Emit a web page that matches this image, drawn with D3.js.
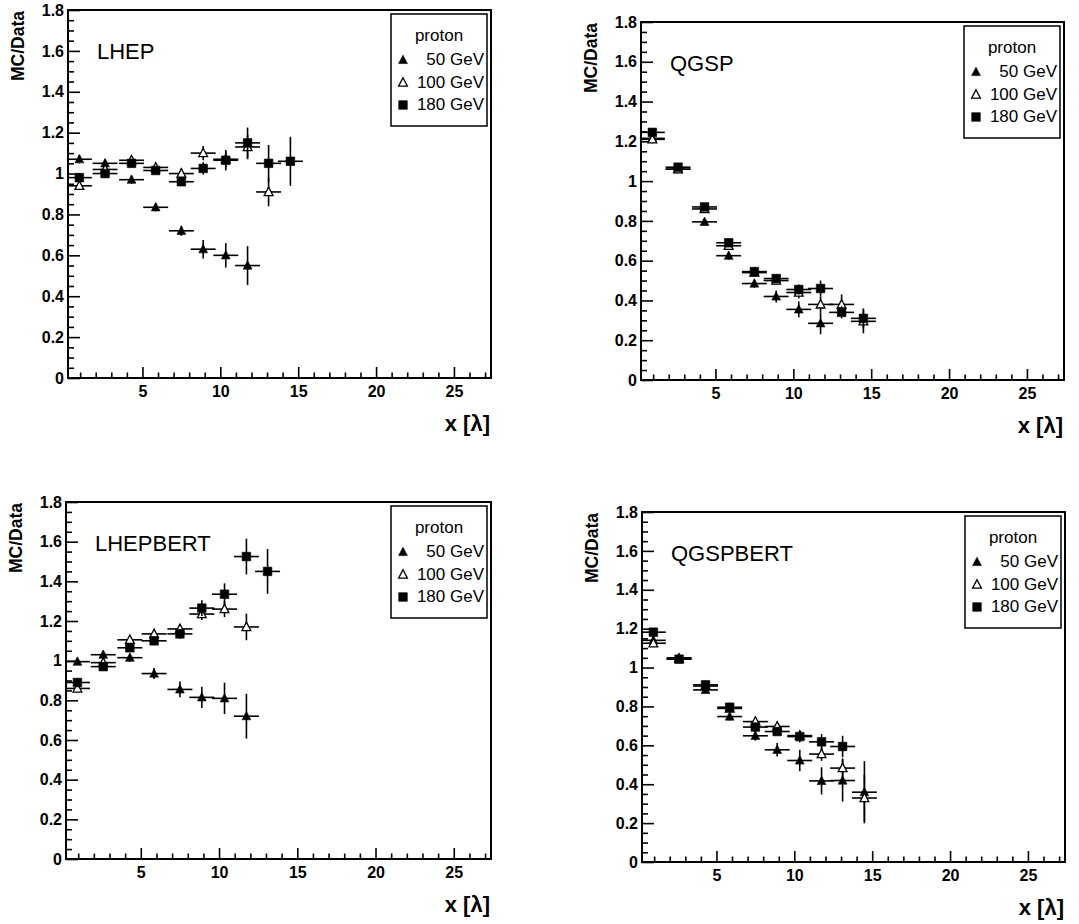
<!DOCTYPE html>
<html>
<head>
<meta charset="utf-8">
<script src="https://cdn.jsdelivr.net/npm/d3@7/dist/d3.min.js"></script>
<style>
  body { margin: 0; background: #fff; }
  svg { display: block; font-family: "Liberation Sans", Arial, sans-serif; }
</style>
</head>
<body>
<svg id="chart" width="1079" height="924"></svg>
<script>
// shared bin centres (in lambda) and half-width
const xBins = [0.95, 2.6, 4.3, 5.85, 7.5, 8.9, 10.35, 11.75, 13.1, 14.5];
const xHalf = 0.8;

const yTicks = [0, 0.2, 0.4, 0.6, 0.8, 1, 1.2, 1.4, 1.6, 1.8];
const xTicks = [5, 10, 15, 20, 25];
const energies = ["50 GeV", "100 GeV", "180 GeV"];

// LHEP
const lhep50 = [1.07, 1.05, 0.97, 0.835, 0.72, 0.63, 0.60, 0.55];
const lhep50Err = [0.02, 0.02, 0.02, 0.02, 0.025, 0.045, 0.06, 0.095];
const lhep100 = [0.94, 1.02, 1.065, 1.03, 1.0, 1.1, 1.07, 1.13, 0.91];
const lhep100Err = [0.02, 0.02, 0.02, 0.02, 0.025, 0.035, 0.04, 0.06, 0.07];
const lhep180 = [0.98, 1.0, 1.05, 1.015, 0.96, 1.025, 1.065, 1.15, 1.05, 1.06];
const lhep180Err = [0.02, 0.02, 0.02, 0.02, 0.02, 0.03, 0.05, 0.075, 0.09, 0.12];

// QGSP
const qgsp50 = [1.215, 1.06, 0.795, 0.625, 0.485, 0.42, 0.355, 0.285];
const qgsp50Err = [0.02, 0.015, 0.015, 0.02, 0.02, 0.03, 0.04, 0.055];
const qgsp100 = [1.21, 1.06, 0.86, 0.675, 0.54, 0.50, 0.44, 0.38, 0.38, 0.295];
const qgsp100Err = [0.02, 0.015, 0.015, 0.02, 0.02, 0.02, 0.03, 0.04, 0.05, 0.06];
const qgsp180 = [1.245, 1.07, 0.87, 0.69, 0.545, 0.51, 0.455, 0.46, 0.34, 0.31];
const qgsp180Err = [0.02, 0.015, 0.015, 0.02, 0.02, 0.02, 0.025, 0.04, 0.03, 0.05];

// LHEPBERT
const lb50 = [0.995, 1.03, 1.015, 0.935, 0.855, 0.815, 0.81, 0.72];
const lb50Err = [0.015, 0.02, 0.02, 0.028, 0.04, 0.054, 0.079, 0.113];
const lb100 = [0.86, 0.99, 1.105, 1.135, 1.16, 1.235, 1.26, 1.17];
const lb100Err = [0.02, 0.02, 0.02, 0.02, 0.025, 0.03, 0.04, 0.067];
const lb180 = [0.89, 0.97, 1.065, 1.10, 1.135, 1.265, 1.335, 1.525, 1.45];
const lb180Err = [0.02, 0.02, 0.02, 0.02, 0.025, 0.04, 0.055, 0.09, 0.113];

// QGSPBERT
const qb50 = [1.14, 1.05, 0.885, 0.748, 0.649, 0.577, 0.522, 0.417, 0.419, 0.359];
const qb50Err = [0.02, 0.015, 0.015, 0.02, 0.025, 0.035, 0.055, 0.07, 0.108, 0.16];
const qb100 = [1.125, 1.045, 0.905, 0.79, 0.722, 0.697, 0.65, 0.555, 0.483, 0.329];
const qb100Err = [0.02, 0.015, 0.015, 0.02, 0.02, 0.02, 0.025, 0.035, 0.05, 0.12];
const qb180 = [1.182, 1.043, 0.911, 0.796, 0.694, 0.671, 0.645, 0.618, 0.594];
const qb180Err = [0.02, 0.015, 0.015, 0.02, 0.02, 0.02, 0.03, 0.04, 0.055];

const panels = [
  { title: "LHEP", box: [68, 491, 10, 378], series: [[lhep50, lhep50Err], [lhep100, lhep100Err], [lhep180, lhep180Err]] },
  { title: "QGSP", box: [641, 1064, 22, 380], series: [[qgsp50, qgsp50Err], [qgsp100, qgsp100Err], [qgsp180, qgsp180Err]] },
  { title: "LHEPBERT", box: [66, 491, 502, 859], series: [[lb50, lb50Err], [lb100, lb100Err], [lb180, lb180Err]] },
  { title: "QGSPBERT", box: [642, 1065, 512, 862], series: [[qb50, qb50Err], [qb100, qb100Err], [qb180, qb180Err]] }
];

const svg = d3.select("#chart");
svg.append("rect").attr("width", 1079).attr("height", 924).attr("fill", "#fff");

// marker paths: 0 filled triangle, 1 open triangle, 2 filled square
function markerPath(kind) {
  if (kind === 2) return "M-4.3,-4.3H4.3V4.3H-4.3Z";
  return "M0,-4.8L4.4,3.6H-4.4Z";
}
function drawMarker(g, kind, cx, cy) {
  g.append("path")
    .attr("transform", `translate(${cx},${cy})`)
    .attr("d", markerPath(kind))
    .attr("fill", kind === 1 ? "#fff" : "#000")
    .attr("stroke", "#000")
    .attr("stroke-width", kind === 1 ? 1.3 : 0.6);
}

panels.forEach(p => {
  const [left, right, top, bottom] = p.box;
  const g = svg.append("g");

  const x = d3.scaleLinear().domain([0.22, 27.38]).range([left, right]);
  const y = d3.scaleLinear().domain([0, 1.8]).range([bottom, top]);

  // Y axis: major + minor ticks, inward
  const yAxis = g.append("g")
    .attr("transform", `translate(${left},0)`)
    .call(d3.axisLeft(y).tickValues(yTicks).tickSize(-12).tickSizeOuter(0).tickPadding(4)
      .tickFormat(d => String(d)));
  yAxis.select(".domain").remove();
  yAxis.selectAll("line").attr("stroke-width", 1.6);
  yAxis.selectAll("text").style("font-size", "16px").style("font-weight", "bold").attr("fill", "#000");

  const yMinor = d3.range(0, 37).map(i => i * 0.05).filter(v => Math.abs(v * 5 - Math.round(v * 5)) > 1e-6);
  g.append("g")
    .attr("transform", `translate(${left},0)`)
    .call(d3.axisLeft(y).tickValues(yMinor).tickSize(-6).tickSizeOuter(0).tickFormat(""))
    .call(a => a.select(".domain").remove())
    .selectAll("line").attr("stroke-width", 1.6);

  // X axis
  const xAxis = g.append("g")
    .attr("transform", `translate(0,${bottom})`)
    .call(d3.axisBottom(x).tickValues(xTicks).tickSize(-11).tickSizeOuter(0).tickPadding(8)
      .tickFormat(d3.format("d")));
  xAxis.select(".domain").remove();
  xAxis.selectAll("line").attr("stroke-width", 1.6);
  xAxis.selectAll("text").style("font-size", "16px").style("font-weight", "bold").attr("fill", "#000");

  const xMinor = d3.range(1, 28).filter(v => v % 5 !== 0);
  g.append("g")
    .attr("transform", `translate(0,${bottom})`)
    .call(d3.axisBottom(x).tickValues(xMinor).tickSize(-5.5).tickSizeOuter(0).tickFormat(""))
    .call(a => a.select(".domain").remove())
    .selectAll("line").attr("stroke-width", 1.6);

  // data: error bars then markers, series in order 50, 100, 180
  p.series.forEach(([vals, errs], k) => {
    const sg = g.append("g");
    vals.forEach((v, i) => {
      const cx = x(xBins[i]), cy = y(v);
      sg.append("line")
        .attr("x1", x(xBins[i] - xHalf)).attr("x2", x(xBins[i] + xHalf))
        .attr("y1", cy).attr("y2", cy)
        .attr("stroke", "#000").attr("stroke-width", 1.6);
      sg.append("line")
        .attr("x1", cx).attr("x2", cx)
        .attr("y1", y(v - errs[i])).attr("y2", y(v + errs[i]))
        .attr("stroke", "#000").attr("stroke-width", 1.6);
    });
    vals.forEach((v, i) => drawMarker(sg, k, x(xBins[i]), y(v)));
  });

  // frame
  g.append("rect")
    .attr("x", left).attr("y", top)
    .attr("width", right - left).attr("height", bottom - top)
    .attr("fill", "none").attr("stroke", "#000").attr("stroke-width", 2);

  // titles
  g.append("text")
    .attr("x", left + 29).attr("y", top + 49)
    .style("font-size", "22px")
    .text(p.title);

  g.append("text")
    .attr("transform", `translate(${left - 44},${top + 1}) rotate(-90)`)
    .attr("text-anchor", "end")
    .style("font-size", "17.5px").style("font-weight", "bold")
    .text("MC/Data");

  g.append("text")
    .attr("x", right - 1).attr("y", bottom + 53)
    .attr("text-anchor", "end")
    .style("font-size", "22px").style("font-weight", "bold")
    .text("x [λ]");

  // legend
  const lx0 = right - 100, lx1 = right - 4, ly0 = top + 4;
  const lg = g.append("g");
  lg.append("rect")
    .attr("x", lx0).attr("y", ly0).attr("width", lx1 - lx0).attr("height", 112)
    .attr("fill", "#fff").attr("stroke", "#000").attr("stroke-width", 1.5);
  lg.append("text")
    .attr("x", (lx0 + lx1) / 2).attr("y", ly0 + 27)
    .attr("text-anchor", "middle").style("font-size", "17px")
    .text("proton");
  energies.forEach((e, k) => {
    const by = ly0 + 51 + k * 22.5;
    drawMarker(lg, k, lx0 + 12, by - 5);
    lg.append("text")
      .attr("x", lx1 - 3).attr("y", by)
      .attr("text-anchor", "end").style("font-size", "17px")
      .text(e);
  });
});
</script>
</body>
</html>
